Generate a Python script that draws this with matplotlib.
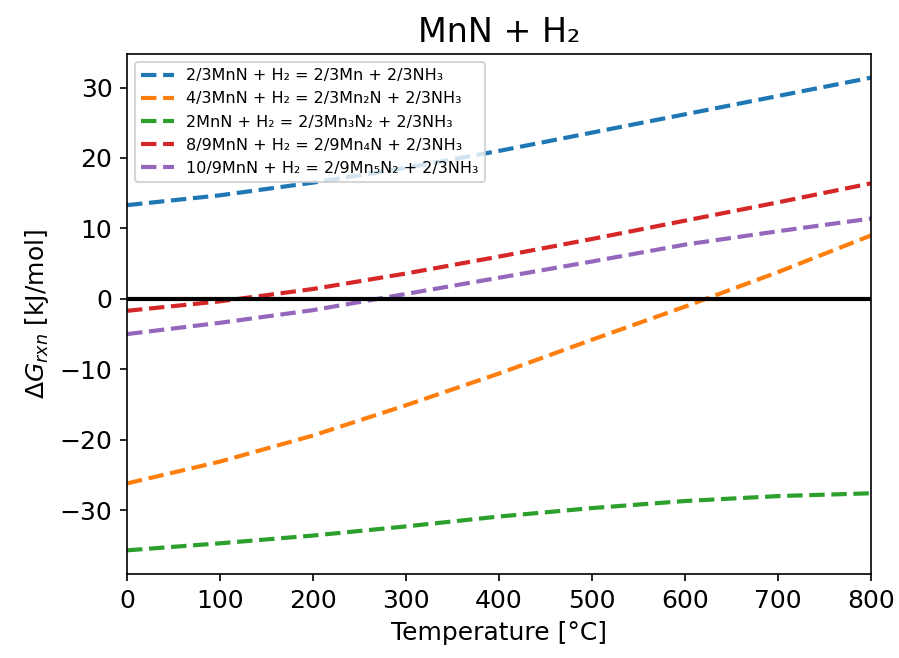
import numpy as np
import matplotlib
matplotlib.use('Agg')
import matplotlib.pyplot as plt

# temperature grid [C]
temps = [0, 100, 200, 300, 400, 500, 600, 700, 800]

# reaction free energies [kJ/mol]
dg_mn = [13.3, 14.7, 16.5, 18.6, 21.0, 23.6, 26.2, 28.8, 31.4]
dg_mn2n = [-26.2, -23.1, -19.4, -15.1, -10.6, -5.8, -1.1, 3.8, 9.0]
dg_mn3n2 = [-35.7, -34.7, -33.6, -32.3, -30.9, -29.7, -28.7, -28.0, -27.6]
dg_mn4n = [-1.7, -0.35, 1.4, 3.6, 6.0, 8.5, 11.1, 13.7, 16.4]
dg_mn5n2 = [-5.0, -3.4, -1.6, 0.7, 3.0, 5.3, 7.7, 9.6, 11.4]

labels = ['2/3MnN + H₂ = 2/3Mn + 2/3NH₃',
          '4/3MnN + H₂ = 2/3Mn₂N + 2/3NH₃',
          '2MnN + H₂ = 2/3Mn₃N₂ + 2/3NH₃',
          '8/9MnN + H₂ = 2/9Mn₄N + 2/3NH₃',
          '10/9MnN + H₂ = 2/9Mn₅N₂ + 2/3NH₃']

fig = plt.figure(figsize=(899/150., 658/150.), dpi=150)
fig.subplots_adjust(left=0.1413, right=0.9689, top=0.9179, bottom=0.1277)
ax = fig.add_subplot(111)

for dg, lab in zip([dg_mn, dg_mn2n, dg_mn3n2, dg_mn4n, dg_mn5n2], labels):
    ax.plot(temps, dg, '--', lw=2, label=lab)
ax.axhline(0, color='k', lw=2)

ax.set_xlim(0, 800)
ax.set_xlabel('Temperature [°C]', fontsize=12)
ax.set_ylabel(r'$\Delta G_{rxn}$ [kJ/mol]', fontsize=12)
ax.set_title('MnN + H₂', fontsize=16)
ax.tick_params(labelsize=12)
ax.legend(loc='upper left', fontsize=7.7)

plt.savefig('out.png', dpi=150)
